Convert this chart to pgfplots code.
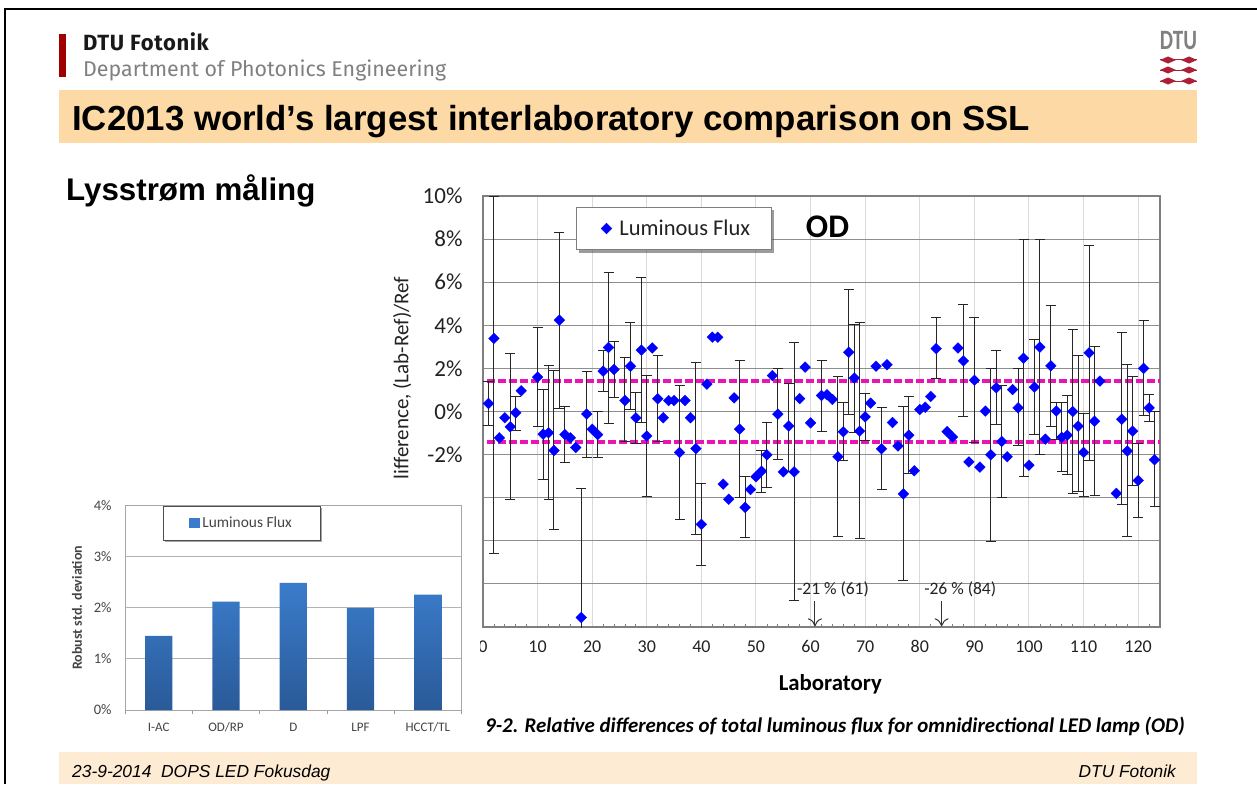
\documentclass[border=0pt]{standalone}
\usepackage{fontspec}
\usepackage{pgfplots}
\usepackage{pgfplotstable}
\pgfplotsset{compat=1.18}
\usetikzlibrary{shadows,arrows.meta}
\setmainfont{Liberation Sans}
\newfontfamily\crl{Carlito}
\newfontfamily\hdr{Fira Sans}
\newfontfamily\hdrb[LetterSpace=3]{Fira Sans}
\newcommand{\fs}[1]{\fontsize{#1pt}{#1pt}\selectfont}
\definecolor{band}{HTML}{FDD9A5}
\definecolor{foot}{HTML}{FDEBD3}
\definecolor{gridh}{HTML}{8E8E8E}
\definecolor{gridv}{HTML}{D9D9D9}
\definecolor{frameg}{HTML}{7F7F7F}
\definecolor{mag}{HTML}{E815B4}
\definecolor{txt}{HTML}{222222}
\definecolor{smalltxt}{HTML}{444444}
\definecolor{bartop}{HTML}{3A7CCB}
\definecolor{barbot}{HTML}{2A5A98}
\definecolor{dtured}{HTML}{A00000}
\definecolor{logored}{HTML}{AF1E37}
\pgfplotstableread{
x y hi lo
1 0.37 1.38 -0.63
2 3.39 10 -6.6
5 -0.71 2.7 -4.08
6 -0.06 0.7 -0.88
10 1.6 3.9 -0.68
11 -1.05 1.04 -3.14
12 -0.99 2.13 -4.08
13 -1.81 1.9 -5.48
14 4.24 8.32 0.14
15 -1.07 0.23 -2.37
18 -9.56 -3.57 -15
19 -0.12 1.86 -2.13
21 -1.07 0 -2.13
22 1.87 2.82 0.94
23 2.97 6.45 -0.54
24 1.95 3.25 0.67
26 0.51 2.52 -1.41
27 2.1 4.11 0.09
28 -0.29 0.9 -1.5
29 2.85 6.22 -0.5
30 -1.14 1.67 -3.96
32 0.59 2.61 -1.41
36 -1.9 1.19 -5
39 -1.72 2.27 -5.72
40 -5.24 -3.33 -7.16
47 -0.82 2.38 -3.99
48 -4.45 -3.03 -5.86
51 -2.77 -1.79 -3.76
52 -2.01 -0.5 -3.53
54 -0.12 2 -2.23
56 -0.67 1.3 -2.8
57 -2.8 3.2 -8.79
62 0.74 2.38 -0.93
65 -2.1 1.61 -5.82
66 -0.94 0.42 -2.27
67 2.75 5.65 -0.15
68 1.55 4.05 -0.97
69 -0.91 4.11 -5.91
70 -0.25 0.84 -1.36
73 -1.73 0.19 -3.62
77 -3.82 0.22 -7.83
78 -1.1 0.7 -2.88
83 2.92 4.35 1.52
88 2.35 4.97 -0.25
90 1.45 4.35 -1.45
93 -2.01 2 -6.02
94 1.1 2.82 -0.6
95 -1.39 1.19 -3.99
98 0.17 2 -1.59
99 2.47 7.98 -3.03
101 1.13 3.34 -1.07
102 2.99 7.98 -1.98
104 2.12 4.92 -0.7
105 0.02 0.42 -1.31
106 -1.2 0.42 -2.8
107 -1.1 0.74 -2.94
108 0 3.82 -3.8
109 -0.68 2.61 -3.71
110 -1.9 -0.1 -3.96
111 2.72 7.69 -2.27
112 -0.45 3.02 -3.9
117 -0.36 3.68 -4.33
118 -1.83 2.18 -5.82
119 -0.91 1.61 -3.43
120 -3.2 -1.48 -4.9
121 2 4.2 -0.2
122 0.17 0.79 -0.45
123 -2.24 0 -4.42
}\witherr
\pgfplotstableread{
x y
3 -1.22
4 -0.29
7 0.96
16 -1.22
17 -1.67
20 -0.82
31 2.95
33 -0.29
34 0.51
35 0.51
37 0.51
38 -0.29
41 1.27
42 3.45
43 3.45
44 -3.37
45 -4.07
46 0.63
49 -3.62
50 -3.03
53 1.67
55 -2.8
58 0.6
59 2.06
60 -0.53
63 0.78
64 0.56
71 0.39
72 2.1
74 2.17
75 -0.51
76 -1.6
79 -2.75
80 0.09
81 0.2
82 0.7
85 -0.93
86 -1.18
87 2.95
89 -2.34
91 -2.58
92 0.02
96 -2.1
97 1.02
100 -2.49
103 -1.28
113 1.41
116 -3.8
}\noerr
\begin{document}
\begin{tikzpicture}
\path[use as bounding box] (0pt,0pt) rectangle (1257pt,-784pt);
\fill[white] (0pt,0pt) rectangle (1257pt,-784pt);
\begin{scope}[x=1pt,y=-1pt]
\draw[black,line width=2.6pt] (1257,9) -- (5,9) -- (5,784);
\fill[dtured] (59,34) rectangle (65.5,77);
\node[anchor=base west,inner sep=0pt,font=\hdrb\bfseries\fs{22},text=black!90] at (83,50.5) {DTU Fotonik};
\node[anchor=base west,inner sep=0pt,font=\hdr\fs{21.4},text=black!50] at (83,76) {Department of Photonics Engineering};
\fill[band] (59,90) rectangle (1197,143);
\node[anchor=base west,inner sep=0pt,font=\bfseries\fs{34.8},text=black] at (72,130) {IC2013 world’s largest interlaboratory comparison on SSL};
\node[anchor=base west,inner sep=0pt,font=\bfseries\fs{31.3},text=black] at (66,200) {Lysstrøm måling};
\node[anchor=base,inner sep=0pt,font=\crl\bfseries\fs{28},text=black!50,xscale=.75] at (1178.5,50) {DTU};
\foreach \yy in {60,70,81}{
 \draw[line width=1pt,logored] (1160,\yy) -- (1197,\yy);
 \fill[logored] (1160,\yy) -- (1168,\yy-3.5) -- (1176,\yy) -- (1168,\yy+3.5) -- cycle;
 \fill[logored] (1181,\yy) -- (1189,\yy-3.5) -- (1197,\yy) -- (1189,\yy+3.5) -- cycle;
}
\fill[foot] (59,752) rectangle (1197,784);
\node[anchor=base west,inner sep=0pt,font=\itshape\fs{17.4},text=black] at (72,777) {23-9-2014\ \ DOPS LED Fokusdag};
\node[anchor=base east,inner sep=0pt,font=\itshape\fs{17.3},text=black] at (1176,777) {DTU Fotonik};
\node[anchor=base west,inner sep=0pt,font=\crl\bfseries\itshape\fs{20.9},text=black] at (485,732) {9-2. Relative differences of total luminous flux for omnidirectional LED lamp (OD)};
\end{scope}
% main chart
\begin{axis}[
 at={(483pt,-627pt)},anchor=south west,scale only axis,width=677pt,height=431pt,
 xmin=0,xmax=124,ymin=-10,ymax=10,
 axis line style={frameg,line width=1.3pt},
 xtick={0,10,...,120},xticklabels={0,10,20,30,40,50,60,70,80,90,100,110,120},
 ytick={-10,-8,...,10},yticklabels={,,,,-2\%,0\%,2\%,4\%,6\%,8\%,10\%},
 minor xtick={2,4,6,8,12,14,16,18,22,24,26,28,32,34,36,38,42,44,46,48,52,54,56,58,62,64,66,68,72,74,76,78,82,84,86,88,92,94,96,98,102,104,106,108,112,114,116,118,122},
 xmajorgrids,ymajorgrids,
 x grid style={gridv,line width=1pt},
 y grid style={gridh,line width=1pt},
 tick style={frameg,line width=.8pt},
 major tick length=0pt,minor tick length=3.5pt,
 tick align=inside,xtick pos=lower,ytick pos=left,
 xticklabel style={font=\crl\fs{18},text=txt,yshift=-10pt},
 yticklabel style={font=\crl\fs{23},text=txt,xshift=-17pt},
 xlabel={Laboratory},
 xlabel style={font=\crl\bfseries\fs{22.8},text=black,at={(axis description cs:0.513,-0.132)},anchor=center},
 ylabel={lifference, (Lab-Ref)/Ref},
 ylabel style={font=\crl\fs{21},text=txt,at={(axis description cs:-0.1196,0.578)},anchor=center},
 legend style={at={(axis description cs:0.1374,0.9745)},anchor=north west,draw=frameg,line width=.9pt,fill=white,
   font=\crl\fs{22.5},text=txt,inner xsep=19pt,inner ysep=10.5pt,
   drop shadow={shadow xshift=3pt,shadow yshift=-3pt,opacity=.55,fill=black!70}},
 legend image code/.code={\draw[#1] plot coordinates {(10.5pt,0pt)}; \path (0pt,0pt) (17pt,0pt);},
]
\addplot[forget plot,mag,line width=3.4pt,dash pattern=on 7.5pt off 3.5pt] coordinates {(0.75,1.41) (124,1.41)};
\addplot[forget plot,mag,line width=3.4pt,dash pattern=on 7.5pt off 3.5pt] coordinates {(0.75,-1.41) (124,-1.41)};
\addplot[forget plot,only marks,mark=none,black,
 error bars/.cd,y dir=both,y explicit,error bar style={black!85,line width=1pt},
 error mark options={rotate=90,mark size=5pt,black!85,line width=1pt}]
 table[x=x,y=y,y error plus expr=\thisrow{hi}-\thisrow{y},y error minus expr=\thisrow{y}-\thisrow{lo}] {\witherr};
\addplot[forget plot,only marks,mark=square*,mark size=3.8pt,mark options={rotate=45,fill=blue,draw=blue,line width=.3pt}] table[x=x,y=y] {\noerr};
\addplot[only marks,mark=square*,mark size=3.8pt,mark options={rotate=45,fill=blue,draw=blue,line width=.3pt}] table[x=x,y=y] {\witherr};
\addlegendentry{\hspace{4pt}Luminous Flux}
\draw[black!80,line width=1pt,-{To[length=8pt,width=14pt]}] (axis cs:60.8,-8.8) -- (axis cs:60.8,-9.97);
\draw[black!80,line width=1pt,-{To[length=8pt,width=14pt]}] (axis cs:84,-8.8) -- (axis cs:84,-9.97);
\node[font=\crl\fs{17.5},text=txt,inner sep=0pt] at (axis cs:64.1,-8.25) {-21 \% (61)};
\node[font=\crl\fs{17.5},text=txt,inner sep=0pt] at (axis cs:87.4,-8.25) {-26 \% (84)};
\node[font=\crl\bfseries\fs{33},text=black,inner sep=0pt] at (axis cs:63.1,8.58) {OD};
\end{axis}
% cover
\fill[white] (60pt,-479pt) rectangle (479.5pt,-748pt);
% small chart
\begin{axis}[
 at={(125pt,-710pt)},anchor=south west,scale only axis,width=336.5pt,height=204.3pt,
 xmin=-0.5,xmax=4.5,ymin=0,ymax=4,
 axis line style={black!35,line width=.8pt},
 xtick={0,1,2,3,4},xticklabels={I-AC,OD/RP,D,LPF,HCCT/TL},
 minor xtick={-0.5,0.5,1.5,2.5,3.5,4.5},
 ytick={0,1,2,3,4},yticklabels={0\%,1\%,2\%,3\%,4\%},
 ymajorgrids,y grid style={black!30,line width=.9pt},
 tick style={black!40,line width=.8pt},
 major tick length=0pt,minor tick length=4pt,tick align=outside,xtick pos=lower,ytick pos=left,
 xticklabel style={font=\crl\fs{13},text=smalltxt,yshift=-9pt,text height=9pt,text depth=3pt},
 yticklabel style={font=\crl\fs{14.5},text=smalltxt,xshift=-10pt},
 ylabel={Robust std. deviation},
 ylabel style={font=\crl\bfseries\fs{14},text=smalltxt,at={(axis description cs:-0.143,0.5)},anchor=center},
 legend style={at={(axis description cs:0.1128,1.0)},anchor=north west,draw=black!70,line width=.8pt,fill=white,
   font=\crl\fs{15.4},text=smalltxt,inner xsep=26pt,inner ysep=9pt,
   drop shadow={shadow xshift=2pt,shadow yshift=-2pt,opacity=.5,fill=black!70}},
 legend image code/.code={\pgfsetfillcolor{bartop}\pgfpathrectangle{\pgfpoint{0pt}{-4.5pt}}{\pgfpoint{11pt}{10pt}}\pgfusepath{fill}},
]
\addplot[ybar,bar width=27.3pt,bar shift=0pt,draw=none,top color=bartop,bottom color=barbot] coordinates {(0,1.45) (1,2.12) (2,2.49) (3,2.0) (4,2.26)};
\addlegendentry{Luminous Flux}
\end{axis}
\end{tikzpicture}
\end{document}
